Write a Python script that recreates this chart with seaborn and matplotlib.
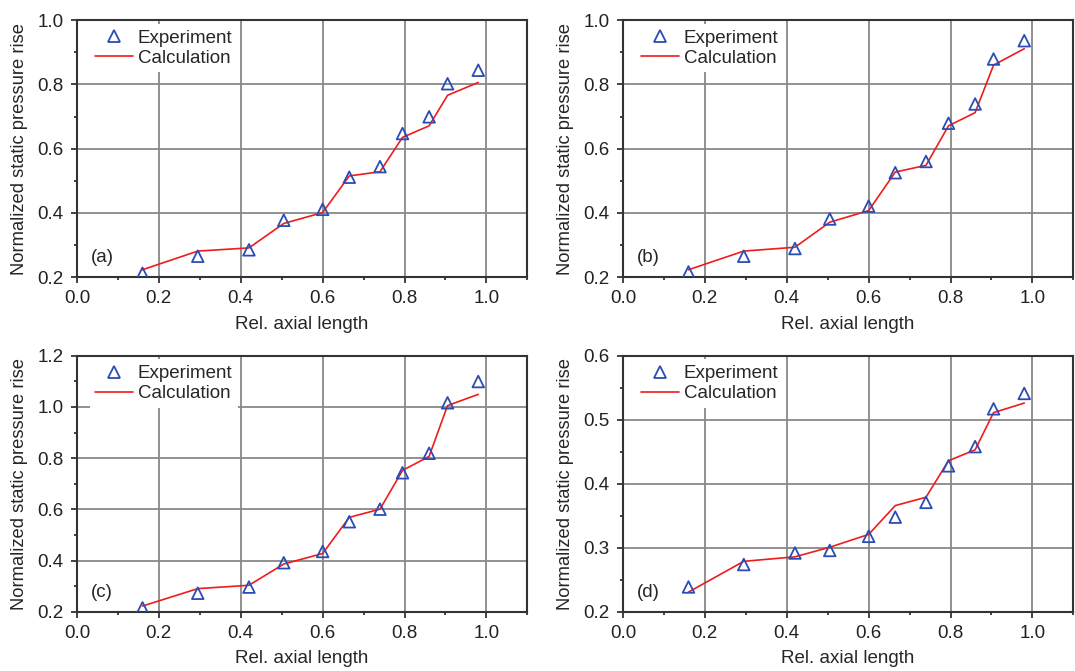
import numpy as np
import pandas as pd
import matplotlib
matplotlib.use("Agg")
import matplotlib.pyplot as plt
import seaborn as sns
from matplotlib.lines import Line2D
from matplotlib.ticker import MultipleLocator

sns.set_theme(style="ticks")
plt.rcParams['font.family'] = ['Liberation Sans', 'DejaVu Sans']
plt.rcParams['xtick.direction'] = 'out'
plt.rcParams['ytick.direction'] = 'out'

# axial positions of the measurement stations
rel_x = [0.16, 0.295, 0.42, 0.505, 0.6, 0.665, 0.74, 0.795, 0.86, 0.905, 0.98]

# panel (a)
exp_a = [0.212, 0.265, 0.285, 0.377, 0.411, 0.511, 0.544, 0.647, 0.699, 0.802, 0.844]
calc_a = [0.223, 0.281, 0.291, 0.367, 0.401, 0.515, 0.528, 0.635, 0.671, 0.766, 0.806]
# panel (b)
exp_b = [0.216, 0.265, 0.289, 0.381, 0.421, 0.525, 0.560, 0.679, 0.739, 0.879, 0.936]
calc_b = [0.223, 0.281, 0.293, 0.371, 0.407, 0.527, 0.548, 0.671, 0.712, 0.860, 0.911]
# panel (c)
exp_c = [0.216, 0.273, 0.297, 0.392, 0.436, 0.552, 0.601, 0.743, 0.819, 1.016, 1.099]
calc_c = [0.223, 0.291, 0.304, 0.387, 0.428, 0.569, 0.601, 0.752, 0.807, 1.005, 1.049]
# panel (d)
exp_d = [0.239, 0.274, 0.292, 0.296, 0.318, 0.348, 0.371, 0.428, 0.458, 0.517, 0.541]
calc_d = [0.231, 0.279, 0.286, 0.301, 0.321, 0.366, 0.379, 0.436, 0.453, 0.511, 0.526]

panel_tags = ["(a)", "(b)", "(c)", "(d)"]
y_limits = [(0.2, 1.0), (0.2, 1.0), (0.2, 1.2), (0.2, 0.6)]
y_major = [0.2, 0.2, 0.2, 0.1]

blue = "#2a4db5"
red = "#ee1c1c"

fig = plt.figure(figsize=(10.75, 6.71), dpi=100)
boxes = [
    [0.0716, 0.587, 0.419, 0.383],
    [0.5795, 0.587, 0.419, 0.383],
    [0.0716, 0.088, 0.419, 0.382],
    [0.5795, 0.088, 0.419, 0.382],
]
series = [(exp_a, calc_a), (exp_b, calc_b), (exp_c, calc_c), (exp_d, calc_d)]

for i, (exp, calc) in enumerate(series):
    ax = fig.add_axes(boxes[i])
    df = pd.DataFrame({"x": rel_x, "exp": exp, "calc": calc})
    sns.lineplot(data=df, x="x", y="calc", ax=ax, color=red, linewidth=1.2,
                 zorder=3, legend=False)
    sns.scatterplot(data=df, x="x", y="exp", ax=ax, marker="^", s=70,
                    facecolor="none", edgecolor=blue, linewidth=1.3,
                    zorder=4, legend=False)
    ax.set_xlim(0, 1.1)
    ax.set_ylim(*y_limits[i])
    ax.xaxis.set_major_locator(MultipleLocator(0.2))
    ax.xaxis.set_minor_locator(MultipleLocator(0.1))
    ax.yaxis.set_major_locator(MultipleLocator(y_major[i]))
    ax.yaxis.set_minor_locator(MultipleLocator(y_major[i] / 2))
    ax.xaxis.set_major_formatter(matplotlib.ticker.FormatStrFormatter("%.1f"))
    ax.yaxis.set_major_formatter(matplotlib.ticker.FormatStrFormatter("%.1f"))
    ax.grid(True, which="major", color="#888888", linewidth=1.3)
    ax.set_axisbelow(True)
    ax.tick_params(which="major", length=4.5, width=1.2, labelsize=13.5,
                   colors="#222222", pad=5)
    ax.tick_params(which="minor", length=2.5, width=1.2, colors="#222222")
    for sp in ax.spines.values():
        sp.set_color("#333333")
        sp.set_linewidth(1.5)
    ax.set_xlabel("Rel. axial length", fontsize=13.5, labelpad=6)
    ax.set_ylabel("Normalized static pressure rise", fontsize=13.2, labelpad=7)
    ax.text(0.03, 0.075, panel_tags[i], transform=ax.transAxes, fontsize=13.5,
            ha="left", va="center", zorder=5)
    handles = [
        Line2D([], [], linestyle="none", marker="^", markersize=8,
               markerfacecolor="none", markeredgecolor=blue, markeredgewidth=1.3),
        Line2D([], [], color=red, linewidth=1.2),
    ]
    leg = ax.legend(handles, ["Experiment", "Calculation"], loc="upper left",
                    bbox_to_anchor=(0.02, 1.0), fontsize=13.5, frameon=True,
                    fancybox=False, handlelength=2.0, handletextpad=0.25,
                    borderpad=0.3, labelspacing=0.15, borderaxespad=0.2)
    leg.get_frame().set_facecolor("white")
    leg.get_frame().set_edgecolor("none")
    leg.get_frame().set_alpha(1.0)
    leg.set_zorder(6)

fig.savefig("out.png", dpi=100)
